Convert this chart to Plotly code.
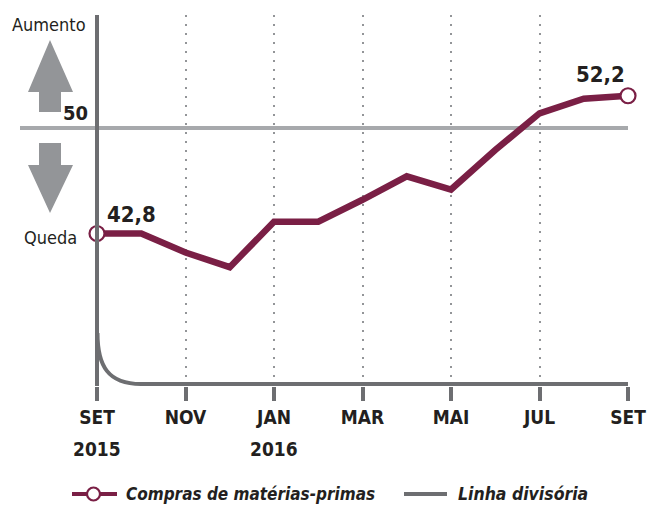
import plotly.graph_objects as go

# ---- data ----
months = ["SET", "OUT", "NOV", "DEZ", "JAN", "FEV", "MAR", "ABR", "MAI", "JUN", "JUL", "AGO", "SET"]
values = [42.8, 42.8, 41.5, 40.5, 43.6, 43.6, 45.1, 46.7, 45.8, 48.5, 51.0, 52.0, 52.2]
tick_idx = [0, 2, 4, 6, 8, 10, 12]
tick_text = ["SET", "NOV", "JAN", "MAR", "MAI", "JUL", "SET"]
year_idx = [0, 4]
year_text = ["2015", "2016"]
threshold = 50
series_name = "Compras de matérias-primas"
divider_name = "Linha divisória"

x = list(range(len(months)))

# ---- style ----
PURPLE = "#7a1f45"
DARK = "#6d6e71"
MID = "#939598"
LIGHT = "#a7a9ac"
TXT = "#231f20"
FONT = "DejaVu Sans Condensed, Liberation Sans Narrow, sans-serif"

W, H = 647, 506
# screen-pixel frame of the plot area
SL, SR, ST, SB = 20, 628, 15, 386
ML, MT = SL, ST
MR, MB = W - SR, H - SB
PW, PH = W - ML - MR, H - MT - MB
X0_PX, X1_PX = 97, 628
PXM = (X1_PX - X0_PX) / 12.0     # px per month
PXU = 14.65                       # px per index point
Y50_PX = 128

def X(px):
    return (px - X0_PX) / PXM

def Y(py):
    return threshold - (py - Y50_PX) / PXU

def PX(px):
    return (px - SL) / PW

def PY(py):
    return (SB - py) / PH

xr = [X(SL), 12]
yr = [Y(SB), Y(ST)]
y_axis = Y(384)

fig = go.Figure()

# main line
fig.add_trace(go.Scatter(x=x, y=values, mode="lines", name=series_name,
                         line=dict(color=PURPLE, width=6.5),
                         showlegend=False, cliponaxis=False, hoverinfo="skip"))
# end markers
ends = [0, len(values) - 1]
fig.add_trace(go.Scatter(x=[x[i] for i in ends], y=[values[i] for i in ends], mode="markers",
                         marker=dict(size=15, color="white", line=dict(color=PURPLE, width=2.2)),
                         showlegend=False, cliponaxis=False))

shapes = []
# 50 line
shapes.append(dict(type="line", xref="x", yref="y", x0=xr[0], x1=12, y0=threshold, y1=threshold,
                   line=dict(color=LIGHT, width=4), layer="below"))
# vertical divider
shapes.append(dict(type="line", xref="x", yref="y", x0=0, x1=0, y0=yr[0], y1=yr[1],
                   line=dict(color=DARK, width=4)))
# curved bottom axis
path = (f"M {X(97.5)},{Y(333)} C {X(97.5)},{Y(366)} {X(108)},{y_axis} {X(141)},{y_axis} "
        f"L 12,{y_axis}")
shapes.append(dict(type="path", xref="x", yref="y", path=path,
                   line=dict(color=DARK, width=4)))

# arrows
def arrow_path(tip, base, end, head=(28, 73), shaft=(39, 61), cx=50):
    return (f"M {X(cx)},{Y(tip)} L {X(head[1])},{Y(base)} L {X(shaft[1])},{Y(base)} "
            f"L {X(shaft[1])},{Y(end)} L {X(shaft[0])},{Y(end)} L {X(shaft[0])},{Y(base)} "
            f"L {X(head[0])},{Y(base)} Z")

shapes.append(dict(type="path", xref="x", yref="y", path=arrow_path(40, 92, 112),
                   fillcolor=MID, line=dict(width=0)))
shapes.append(dict(type="path", xref="x", yref="y", path=arrow_path(213, 165, 143),
                   fillcolor=MID, line=dict(width=0)))

# manual legend symbols (paper coords)
LEG_Y = PY(494)
shapes.append(dict(type="line", xref="paper", yref="paper", x0=PX(72), x1=PX(117),
                   y0=LEG_Y, y1=LEG_Y, line=dict(color=PURPLE, width=4)))
shapes.append(dict(type="circle", xref="paper", yref="paper",
                   x0=PX(87), x1=PX(100), y0=PY(500.5), y1=PY(487.5),
                   fillcolor="white", line=dict(color=PURPLE, width=2.2)))
shapes.append(dict(type="line", xref="paper", yref="paper", x0=PX(404), x1=PX(447),
                   y0=LEG_Y, y1=LEG_Y, line=dict(color=DARK, width=4)))

def fmt(v):
    return f"{v:.1f}".replace(".", ",")

annotations = [
    dict(x=X(49), y=Y(24), xref="x", yref="y", text="Aumento", showarrow=False,
         font=dict(family=FONT, size=18, color=TXT), xanchor="center", yanchor="middle"),
    dict(x=X(50), y=Y(237), xref="x", yref="y", text="Queda", showarrow=False,
         font=dict(family=FONT, size=18, color=TXT), xanchor="center", yanchor="middle"),
    dict(x=0, y=threshold, xref="x", yref="y", text=f"<b>{threshold}</b>", showarrow=False,
         xshift=-7, yshift=15, font=dict(family=FONT, size=20, color=TXT),
         xanchor="right", yanchor="middle"),
    dict(x=x[0], y=values[0], xref="x", yref="y", text=f"<b>{fmt(values[0])}</b>", showarrow=False,
         xshift=8, yshift=19, font=dict(family=FONT, size=22, color=TXT),
         xanchor="left", yanchor="middle"),
    dict(x=x[-1], y=values[-1], xref="x", yref="y", text=f"<b>{fmt(values[-1])}</b>", showarrow=False,
         xshift=-1, yshift=21, font=dict(family=FONT, size=22, color=TXT),
         xanchor="right", yanchor="middle"),
    dict(x=PX(124), y=LEG_Y, xref="paper", yref="paper", text=f"<b><i>{series_name}</i></b>",
         showarrow=False, font=dict(family=FONT, size=17, color=TXT),
         xanchor="left", yanchor="middle"),
    dict(x=PX(456), y=LEG_Y, xref="paper", yref="paper", text=f"<b><i>{divider_name}</i></b>",
         showarrow=False, font=dict(family=FONT, size=17.5, color=TXT),
         xanchor="left", yanchor="middle"),
]
# year labels under SET / JAN
for xi, yt in zip(year_idx, year_text):
    annotations.append(dict(x=xi, y=PY(449), xref="x", yref="paper", text=f"<b>{yt}</b>",
                            showarrow=False, font=dict(family=FONT, size=19, color=TXT),
                            xanchor="center", yanchor="middle"))

fig.update_layout(
    width=W, height=H,
    margin=dict(l=ML, r=MR, t=MT, b=MB, autoexpand=False),
    paper_bgcolor="white", plot_bgcolor="white",
    shapes=shapes, annotations=annotations,
    font=dict(family=FONT, color=TXT),
    showlegend=False,
)

fig.update_xaxes(range=xr, tickmode="array", tickvals=tick_idx,
                 ticktext=[f"<b>{t}</b>" for t in tick_text],
                 tickfont=dict(family=FONT, size=19, color=TXT),
                 ticks="outside", ticklen=14, tickwidth=4, tickcolor=DARK,
                 ticklabeloverflow="allow", automargin=False,
                 showgrid=True, gridcolor=MID, gridwidth=2, griddash="2px,7px",
                 showline=False, zeroline=False, fixedrange=True)
fig.update_yaxes(range=yr, showgrid=False, zeroline=False, showline=False,
                 showticklabels=False, ticks="", fixedrange=True, automargin=False)

fig.write_html("out.html", config={"displayModeBar": False},
               post_script="document.body.style.margin='0';document.body.style.overflow='hidden';")
